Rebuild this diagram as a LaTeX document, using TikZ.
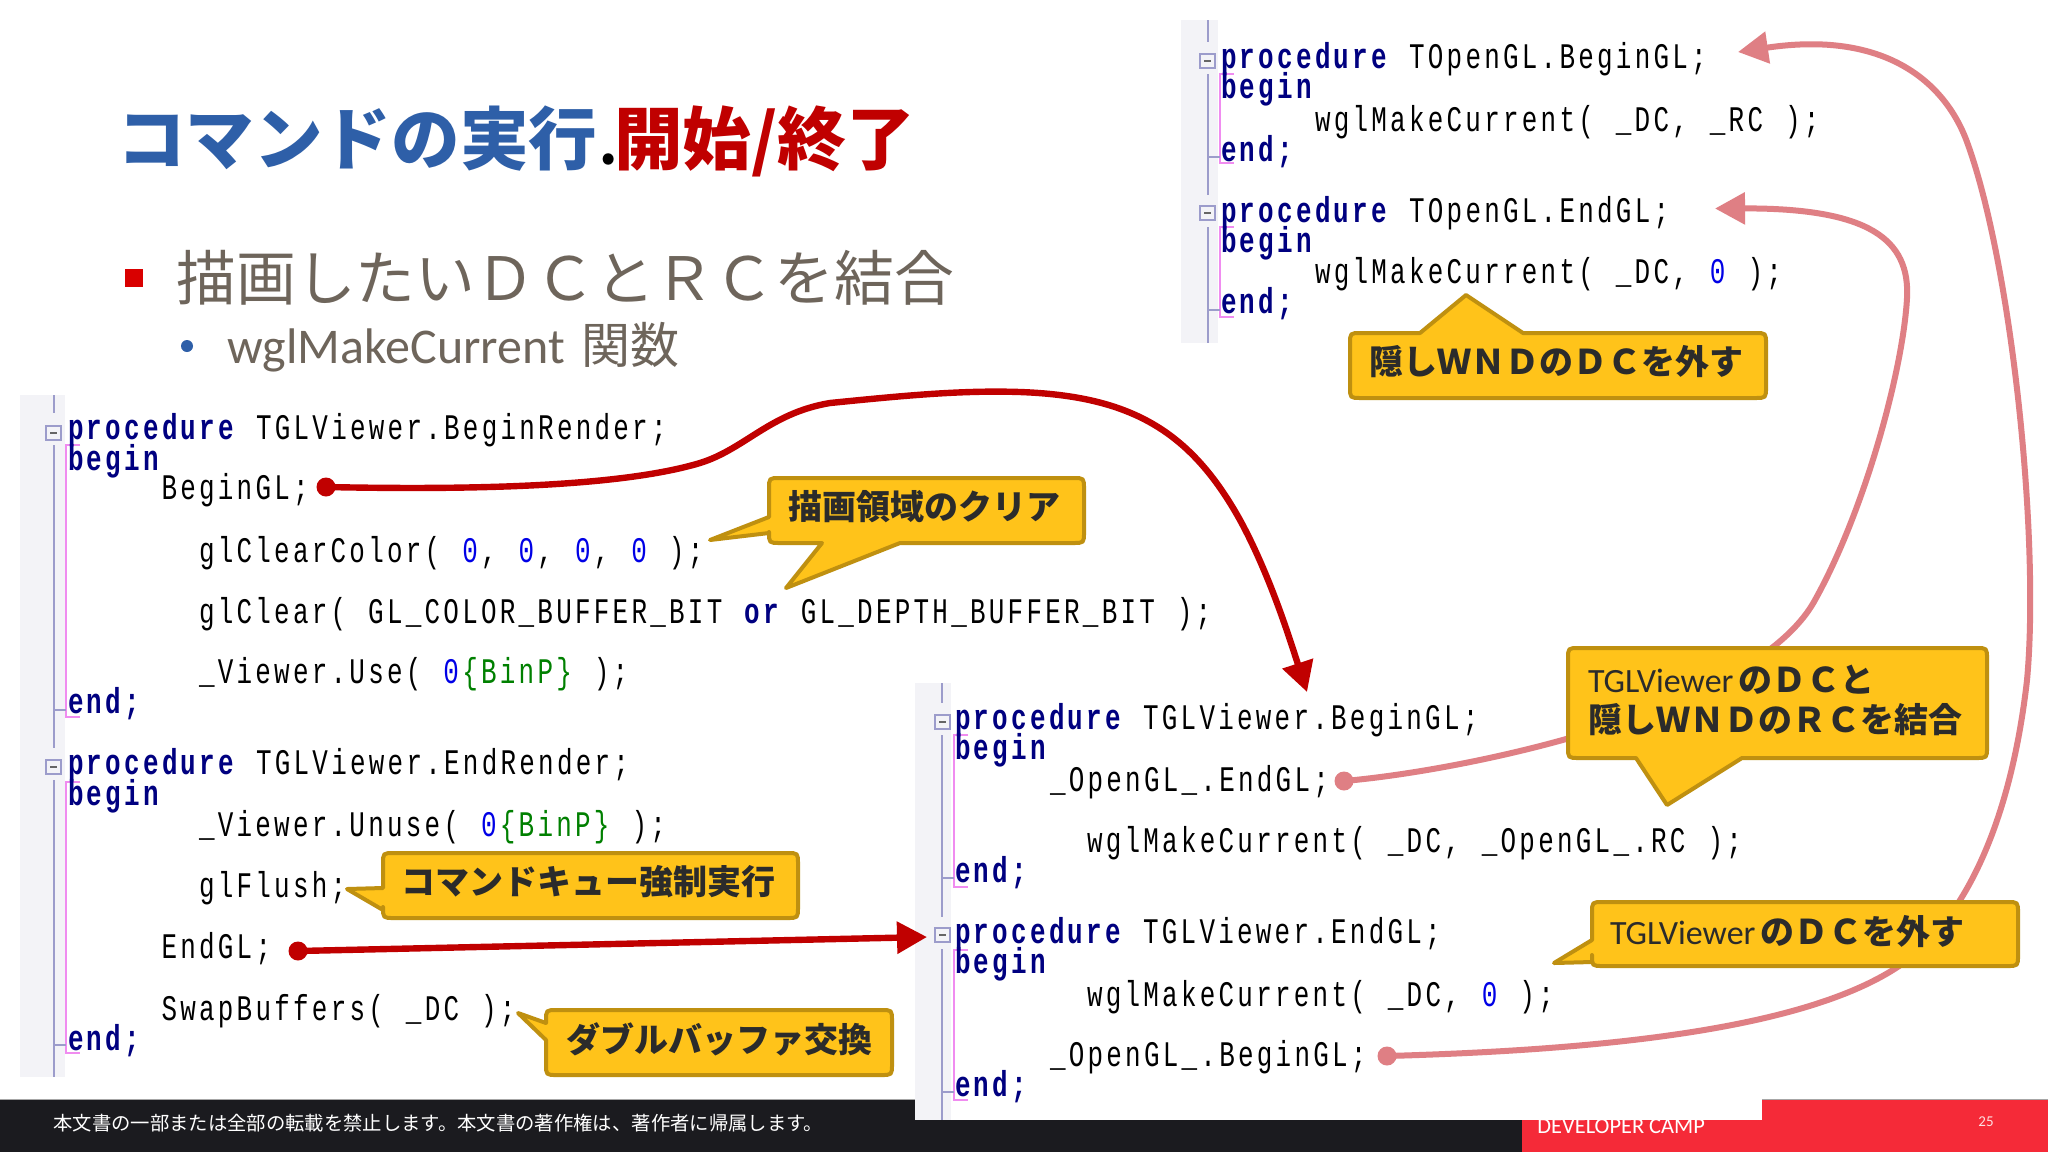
\documentclass[tikz,border=0pt]{standalone}
\usepackage{fontspec}
\usetikzlibrary{arrows.meta}
\setmainfont{Liberation Sans}
\newfontfamily\jpfont{Noto Sans CJK JP}
\newfontfamily\codefont[FakeStretch=0.72,LetterSpace=9.05]{Liberation Mono}
\newfontfamily\carlito{Carlito}
\definecolor{kwcol}{HTML}{000080}
\definecolor{numcol}{HTML}{0000E6}
\definecolor{cmtcol}{HTML}{008000}
\definecolor{gutter}{HTML}{F3F3F7}
\definecolor{foldline}{HTML}{9C9CCB}
\definecolor{pinkline}{HTML}{F08CF0}
\definecolor{darkred}{HTML}{C00000}
\definecolor{softred}{HTML}{DF7F84}
\definecolor{callfill}{HTML}{FFC31A}
\definecolor{callline}{HTML}{BF9010}
\definecolor{calltext}{HTML}{2B2B2B}
\definecolor{titleblue}{HTML}{2E5FA8}
\definecolor{bodygray}{HTML}{6E655B}
\definecolor{footdark}{HTML}{1B1B1F}
\definecolor{footred}{HTML}{F52A38}
\newcommand\kw[1]{\textcolor{kwcol}{\bfseries #1}}
\newcommand\nm[1]{\textcolor{numcol}{#1}}
\newcommand\nk[1]{\textcolor{numcol}{#1}\kern1.63pt}
\newcommand\cm[1]{\textcolor{cmtcol}{#1}}
\newcommand\jpb{\jpfont\bfseries}
\newcommand\codesetup{\codefont\fontsize{18pt}{20pt}\selectfont\frenchspacing\setlength{\spaceskip}{11pt}}
% L T R B toptail righttail bottomtail lefttail
\newcommand\calloutpath[8]{%
  \draw[calloutbox] ({#1+11},#2) #5 -- ({#3-11},#2) .. controls (#3,#2) .. (#3,{#2+11}) #6
    -- (#3,{#4-11}) .. controls (#3,#4) .. ({#3-11},#4) #7
    -- ({#1+11},#4) .. controls (#1,#4) .. (#1,{#4-11}) #8
    -- (#1,{#2+11}) .. controls (#1,#2) .. ({#1+11},#2) -- cycle;}
\newcommand\foldbox[2]{%
  \draw[foldbar,fill=gutter] (#1,#2) rectangle ({#1+15},{#2+14});
  \draw[line width=0.7pt,black!60] ({#1+4},{#2+7}) -- ({#1+11},{#2+7});}
\newcommand\bracket[4]{%
  \draw[pinkbar] ({#1+14},#2) -- (#1,#2) -- (#1,#3) -- ({#1+14},#3);
  \draw[foldbar] ({#1-12},#4) -- (#1,#4);}
\tikzset{
  codeline/.style={anchor=base west,inner sep=0pt,outer sep=0pt,
    font=\codesetup,text=black},
  foldbar/.style={draw=foldline,line width=1pt},
  pinkbar/.style={draw=pinkline,line width=1pt},
  calloutbox/.style={fill=callfill,draw=callline,line width=2pt,line join=round},
  calltxt/.style={inner sep=0pt,outer sep=0pt,text=calltext,
    font=\jpb\fontsize{17pt}{20pt}\selectfont},
  callmix/.style={anchor=base west,inner sep=0pt,outer sep=0pt,text=calltext,
    font=\fontsize{17pt}{20pt}\selectfont},
  dotred/.style={circle,fill=darkred,inner sep=0pt,minimum size=9.5pt},
  dotsoft/.style={circle,fill=softred,inner sep=0pt,minimum size=9.5pt},
  redcurve/.style={draw=darkred,line width=3.2pt,-{Triangle[length=15pt,width=15.5pt]}},
  softcurve/.style={draw=softred,line width=3pt,-{Triangle[length=15pt,width=15.5pt]}},
  titletxt/.style={anchor=base west,inner sep=0pt,outer sep=0pt,
    font=\jpb\fontsize{34.3pt}{36pt}\selectfont},
}
\begin{document}
\begin{tikzpicture}[x=0.5pt,y=-0.5pt]
\useasboundingbox (0,0) rectangle (2048,1152);
\fill[white] (0,0) rectangle (2048,1152);
% footer
\fill[footdark] (0,1100) rectangle (1522,1152);
\fill[footred] (1522,1100) rectangle (2048,1152);
\draw[black!35,line width=0.6pt] (0,1099.5) -- (2048,1099.5);
\node[anchor=west,inner sep=0pt,text=white,font=\jpfont\fontsize{9.67pt}{11pt}\selectfont] (foot) at (53,1123) {本文書の一部または全部の転載を禁止します。本文書の著作権は、著作者に帰属します。};
\node[anchor=base west,inner sep=0pt,text=white,font=\carlito\fontsize{11.2pt}{13pt}\selectfont] (camp) at (1537,1133) {DEVELOPER CAMP};
\node[inner sep=0pt,text=white!85!footred,font=\carlito\fontsize{7.5pt}{9pt}\selectfont] (page) at (1986,1122) {25};
\fill[white] (915,1090) rectangle (1762,1120);
% gutters
\fill[gutter] (20,395) rectangle (65,1077);
\fill[gutter] (915,683) rectangle (951,1120);
\fill[gutter] (1181,20) rectangle (1218,343);
% block 1 rails
\draw[foldbar] (54,395) -- (54,413) (54,445) -- (54,748) (54,780) -- (54,1077);
\foldbox{46}{426}\foldbox{46}{760}
\bracket{66}{445}{717}{710}\bracket{66}{782}{1053}{1045}
% block 2 rails
\draw[foldbar] (942,683) -- (942,703) (942,735) -- (942,917) (942,949) -- (942,1120);
\foldbox{935}{715}\foldbox{935}{928}
\bracket{954}{735}{887}{878}\bracket{954}{950}{1100}{1092}
% block 3 rails
\draw[foldbar] (1208,20) -- (1208,42) (1208,74) -- (1208,195) (1208,227) -- (1208,343);
\foldbox{1200}{54}\foldbox{1200}{206}
\bracket{1219.5}{74}{163}{157}\bracket{1219.5}{227}{317}{310}
% title
\node[titletxt,text=titleblue] (t1) at (117,164) {コマンドの実行};
\node[titletxt,text=black] (t2) at (599,164) {\fontsize{26pt}{30pt}\selectfont .};
\node[titletxt,text=darkred] (t3) at (614,164) {開始/終了};
% bullets
\fill[red!85!black] (125,269) rectangle (142.5,287);
\fill[titleblue] (187,346) circle (6);
\node[anchor=base west,inner sep=0pt,text=bodygray,font=\jpfont\fontsize{29.9pt}{32pt}\selectfont] (b1) at (176,300) {描画したいＤＣとＲＣを結合};
\node[anchor=base west,inner sep=0pt,text=bodygray,font=\carlito\fontsize{25pt}{28pt}\selectfont] (b2) at (227,363) {wglMakeCurrent};
\node[anchor=base west,inner sep=0pt,text=bodygray,font=\jpfont\fontsize{24.5pt}{28pt}\selectfont] (b3) at (581,363) {関数};
% code block 1
\node[codeline] (a1) at (68,439) {\kw{procedure} TGLViewer.BeginRender;};
\node[codeline] (a2) at (68,470) {\kw{begin}};
\node[codeline] (a3) at (161.5,499) {BeginGL;};
\node[codeline] (a4) at (199,562) {glClearColor( \nk{0}, \nk{0}, \nk{0}, \nm{0} );};
\node[codeline] (a5) at (199,623) {glClear( GL\_COLOR\_BUFFER\_BIT \kw{or} GL\_DEPTH\_BUFFER\_BIT );};
\node[codeline] (a6) at (199,683) {\_Viewer.Use( \nk{0}\cm{\{BinP\}} );};
\node[codeline] (a7) at (68,713) {\kw{end;}};
\node[codeline] (a8) at (68,774) {\kw{procedure} TGLViewer.EndRender;};
\node[codeline] (a9) at (68,805) {\kw{begin}};
\node[codeline] (a10) at (199,836) {\_Viewer.Unuse( \nk{0}\cm{\{BinP\}} );};
\node[codeline] (a11) at (199,897) {glFlush;};
\node[codeline] (a12) at (161.5,958) {EndGL;};
\node[codeline] (a13) at (161.5,1020) {SwapBuffers( \_DC );};
\node[codeline] (a14) at (68,1050) {\kw{end;}};
% code block 2
\node[codeline] (c1) at (955,729) {\kw{procedure} TGLViewer.BeginGL;};
\node[codeline] (c2) at (955,759) {\kw{begin}};
\node[codeline] (c3) at (1050,791) {\_OpenGL\_.EndGL;};
\node[codeline] (c4) at (1087,852) {wglMakeCurrent( \_DC, \_OpenGL\_.RC );};
\node[codeline] (c5) at (955,882) {\kw{end;}};
\node[codeline] (c6) at (955,943) {\kw{procedure} TGLViewer.EndGL;};
\node[codeline] (c7) at (955,973) {\kw{begin}};
\node[codeline] (c8) at (1087,1006) {wglMakeCurrent( \_DC, \nm{0} );};
\node[codeline] (c9) at (1050,1066) {\_OpenGL\_.BeginGL;};
\node[codeline] (c10) at (955,1096) {\kw{end;}};
% code block 3
\node[codeline] (d1) at (1221,68) {\kw{procedure} TOpenGL.BeginGL;};
\node[codeline] (d2) at (1221,98) {\kw{begin}};
\node[codeline] (d3) at (1315,131) {wglMakeCurrent( \_DC, \_RC );};
\node[codeline] (d4) at (1221,161) {\kw{end;}};
\node[codeline] (d5) at (1221,222) {\kw{procedure} TOpenGL.EndGL;};
\node[codeline] (d6) at (1221,252) {\kw{begin}};
\node[codeline] (d7) at (1315,283) {wglMakeCurrent( \_DC, \nm{0} );};
\node[codeline] (d8) at (1221,313) {\kw{end;}};
% connectors
\node[dotred] (dotA) at (326,487) {};
\node[dotred] (dotB) at (298,951) {};
\node[dotsoft] (dotC) at (1344,781) {};
\node[dotsoft] (dotD) at (1387,1056) {};
\coordinate (endA) at (1307,692);
\coordinate (endB) at (927,937);
\coordinate (endC) at (1715,208.5);
\coordinate (endD) at (1738,52);
\draw[softcurve] (dotC.center) .. controls (1470,770) and (1755,710) .. (1815,600)
  .. controls (1865,510) and (1903,370) .. (1907,298)
  .. controls (1910,240) and (1870,208) .. (endC);
\draw[softcurve] (dotD.center) .. controls (1600,1050) and (1800,1030) .. (1896,968)
  .. controls (1960,927) and (2010,830) .. (2027,680)
  .. controls (2040,540) and (2012,265) .. (1967,142)
  .. controls (1945,82) and (1885,30) .. (endD);
\draw[redcurve] (dotA.center) .. controls (470,490) and (620,487) .. (700,463)
  .. controls (745,449) and (770,413) .. (830,403)
  .. controls (900,396) and (960,390) .. (1020,392)
  .. controls (1130,396) and (1190,430) .. (1240,520)
  .. controls (1270,575) and (1290,640) .. (endA);
\draw[redcurve] (dotB.center) -- (endB);
% callouts
\calloutpath{769}{478}{1084}{543}{}{}{-- (900,543) -- (786,588) -- (822,543)}{-- (769,533) -- (710,540) -- (769,517)}
\node[calltxt] (n1) at (924,507) {描画領域のクリア};
\calloutpath{383}{853}{798}{918}{}{}{}{-- (383,910) -- (347,889) -- (383,888)}
\node[calltxt] (n2) at (588.5,882) {コマンドキュー強制実行};
\calloutpath{546}{1010}{892}{1075}{}{}{}{-- (546,1040) -- (518,1013) -- (546,1023)}
\node[calltxt] (n3) at (719,1039) {ダブルバッファ交換};
\calloutpath{1350}{333}{1766}{398}{-- (1420,333) -- (1466,295) -- (1523,333)}{}{}{}
\node[calltxt] (n4) at (1556,362) {隠しＷＮＤのＤＣを外す};
\calloutpath{1568}{648}{1987}{758}{}{}{-- (1742,758) -- (1667,805) -- (1636,758)}{}
\node[callmix] (n5) at (1588,692) {{\carlito TGLViewer}\hspace{2.7pt}{\jpb のＤＣと}};
\node[callmix] (n6) at (1588,732) {{\jpb 隠しＷＮＤのＲＣを結合}};
\calloutpath{1592}{902}{2018}{966}{}{}{}{-- (1592,962) -- (1554,963) -- (1592,940)}
\node[callmix] (n7) at (1610,944) {{\carlito TGLViewer}\hspace{2.7pt}{\jpb のＤＣを外す}};
\end{tikzpicture}
\end{document}
